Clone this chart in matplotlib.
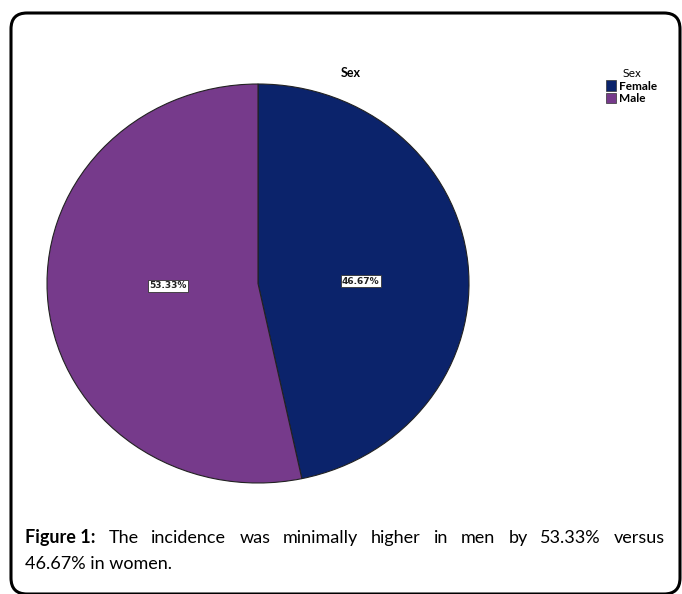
import matplotlib
matplotlib.use('Agg')
import matplotlib.pyplot as plt
from matplotlib.patches import FancyBboxPatch, Patch
from matplotlib.transforms import IdentityTransform

# data
categories = ['Female', 'Male']
percentages = [46.67, 53.33]
colors = ['#0b236b', '#763a8b']
caption_bold = 'Figure 1:'
caption_line1 = 'The incidence was minimally higher in men by 53.33% versus'
caption_line2 = '46.67% in women.'

W, H = 682, 594
fig = plt.figure(figsize=(W / 100, H / 100), dpi=100)

# rounded frame round the figure
frame = FancyBboxPatch((11, 0), 669, 581, boxstyle='round,pad=0,rounding_size=16',
                       transform=IdentityTransform(), fill=False, lw=2.2, ec='black')
fig.patches.append(frame)

# pie axes, slightly taller than wide as in the original
left, right, top, bottom = 47, 469, 84, 483
ax = fig.add_axes([left / W, 1 - bottom / H, (right - left) / W, (bottom - top) / H])
wedges, texts, autotexts = ax.pie(percentages, colors=colors, startangle=90, counterclock=False,
                                  autopct='%.2f%%', pctdistance=0.46,
                                  wedgeprops=dict(edgecolor='#222222', linewidth=0.8))
ax.set_aspect('auto')
ax.set_xlim(-1.0, 1.0)
ax.set_ylim(-1.0, 1.0)
# SPSS puts the labels nearly level with the centre, a bit right of the centroid
for t in autotexts:
    px, py = t.get_position()
    t.set_position((px + 0.03, py * 0.25))
    t.set_fontsize(6.5)
    t.set_fontweight('bold')
    t.set_color('#222222')
    t.set_bbox(dict(boxstyle='square,pad=0.15', fc='white', ec='#333333', lw=0.6))

fig.text(351 / W, 1 - 73 / H, 'Sex', ha='center', va='center', fontsize=9, fontweight='bold',
         family='Lato')

handles = [Patch(fc=c, ec='#333333', lw=0.5) for c in colors]
leg = fig.legend(handles, categories, title='Sex', loc='upper left',
                 bbox_to_anchor=(605 / W, 1 - 68 / H), frameon=False,
                 title_fontsize=7.5, handlelength=0.85, handleheight=0.95, handletextpad=0.2,
                 labelspacing=0.1, borderpad=0.1, borderaxespad=0,
                 prop={'family': 'Lato', 'weight': 'bold', 'size': 8.5})

# justified caption
fig.canvas.draw()
renderer = fig.canvas.get_renderer()
fs = 13
x0, x1 = 25, 665
words = [(caption_bold, 'bold')] + [(w, 'normal') for w in caption_line1.split()]
arts = []
for w, wt in words:
    t = fig.text(0, 0, w, fontsize=fs, fontweight=wt, family='Lato', va='baseline', ha='left')
    arts.append(t)
widths = [t.get_window_extent(renderer).width for t in arts]
gap = (x1 - x0 - sum(widths)) / (len(arts) - 1)
x = x0
for t, wd in zip(arts, widths):
    t.set_position((x / W, 1 - 543 / H))
    x += wd + gap
fig.text(x0 / W, 1 - 569 / H, caption_line2, fontsize=fs, family='Lato', va='baseline', ha='left')

fig.savefig('out.png', dpi=100)
